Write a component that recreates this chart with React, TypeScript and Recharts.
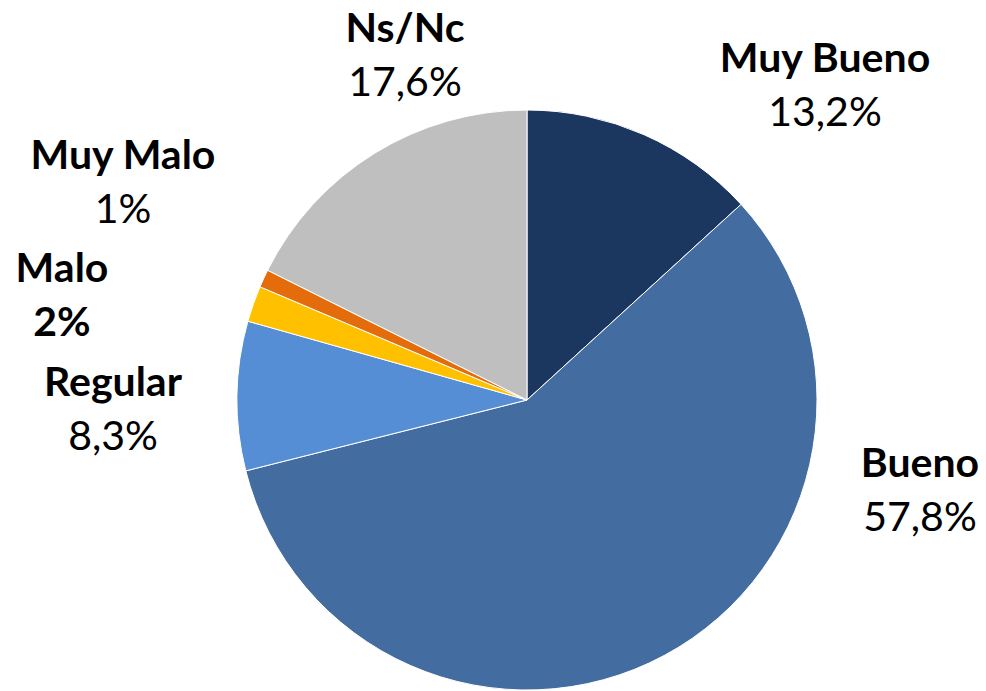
import React from "react";
import { PieChart, Pie, Cell } from "recharts";

const categories = ["Muy Bueno", "Bueno", "Regular", "Malo", "Muy Malo", "Ns/Nc"];
const values = [13.2, 57.8, 8.3, 2, 1, 17.6];
const valueLabels = ["13,2%", "57,8%", "8,3%", "2%", "1%", "17,6%"];

const COLORS = ["#1B3760", "#436DA0", "#558ED5", "#FFC000", "#E46C0A", "#BFBFBF"];
// label block offsets relative to pie centre: [dx of text centre, baseline of first line]
const LABEL_OFFSETS: [number, number][] = [
  [298, -328],
  [393, 77],
  [-414, -4],
  [-465, -118],
  [-404, -231],
  [-122, -358],
];
const BOLD_VALUE = [false, false, false, true, false, false];

const data = categories.map((name, i) => ({ name, value: values[i], label: valueLabels[i] }));

const FONT = "Lato, 'Open Sans', sans-serif";

const renderLabel = (props: any) => {
  const { cx, cy, index } = props;
  const [dx, dy] = LABEL_OFFSETS[index];
  const x = cx + dx;
  const y = cy + dy;
  return (
    <text x={x} y={y} textAnchor="middle" fill="#000" fontFamily={FONT} fontSize={41}>
      <tspan x={x} y={y} fontWeight="bold">{categories[index]}</tspan>
      <tspan x={x} y={y + 54} fontWeight={BOLD_VALUE[index] ? "bold" : "normal"}>
        {valueLabels[index]}
      </tspan>
    </text>
  );
};

export default function App() {
  return (
    <div style={{ position: "absolute", left: 0, top: 0, width: 986, height: 691, background: "#fff" }}>
      <PieChart width={986} height={691} margin={{ top: 0, right: 0, bottom: 0, left: 0 }}>
        <Pie
          data={data}
          dataKey="value"
          nameKey="name"
          cx={527}
          cy={400}
          outerRadius={290}
          startAngle={90}
          endAngle={-270}
          stroke="#fff"
          strokeWidth={1}
          label={renderLabel}
          labelLine={false}
          isAnimationActive={false}
        >
          {data.map((d, i) => (
            <Cell key={d.name} fill={COLORS[i]} />
          ))}
        </Pie>
      </PieChart>
    </div>
  );
}
